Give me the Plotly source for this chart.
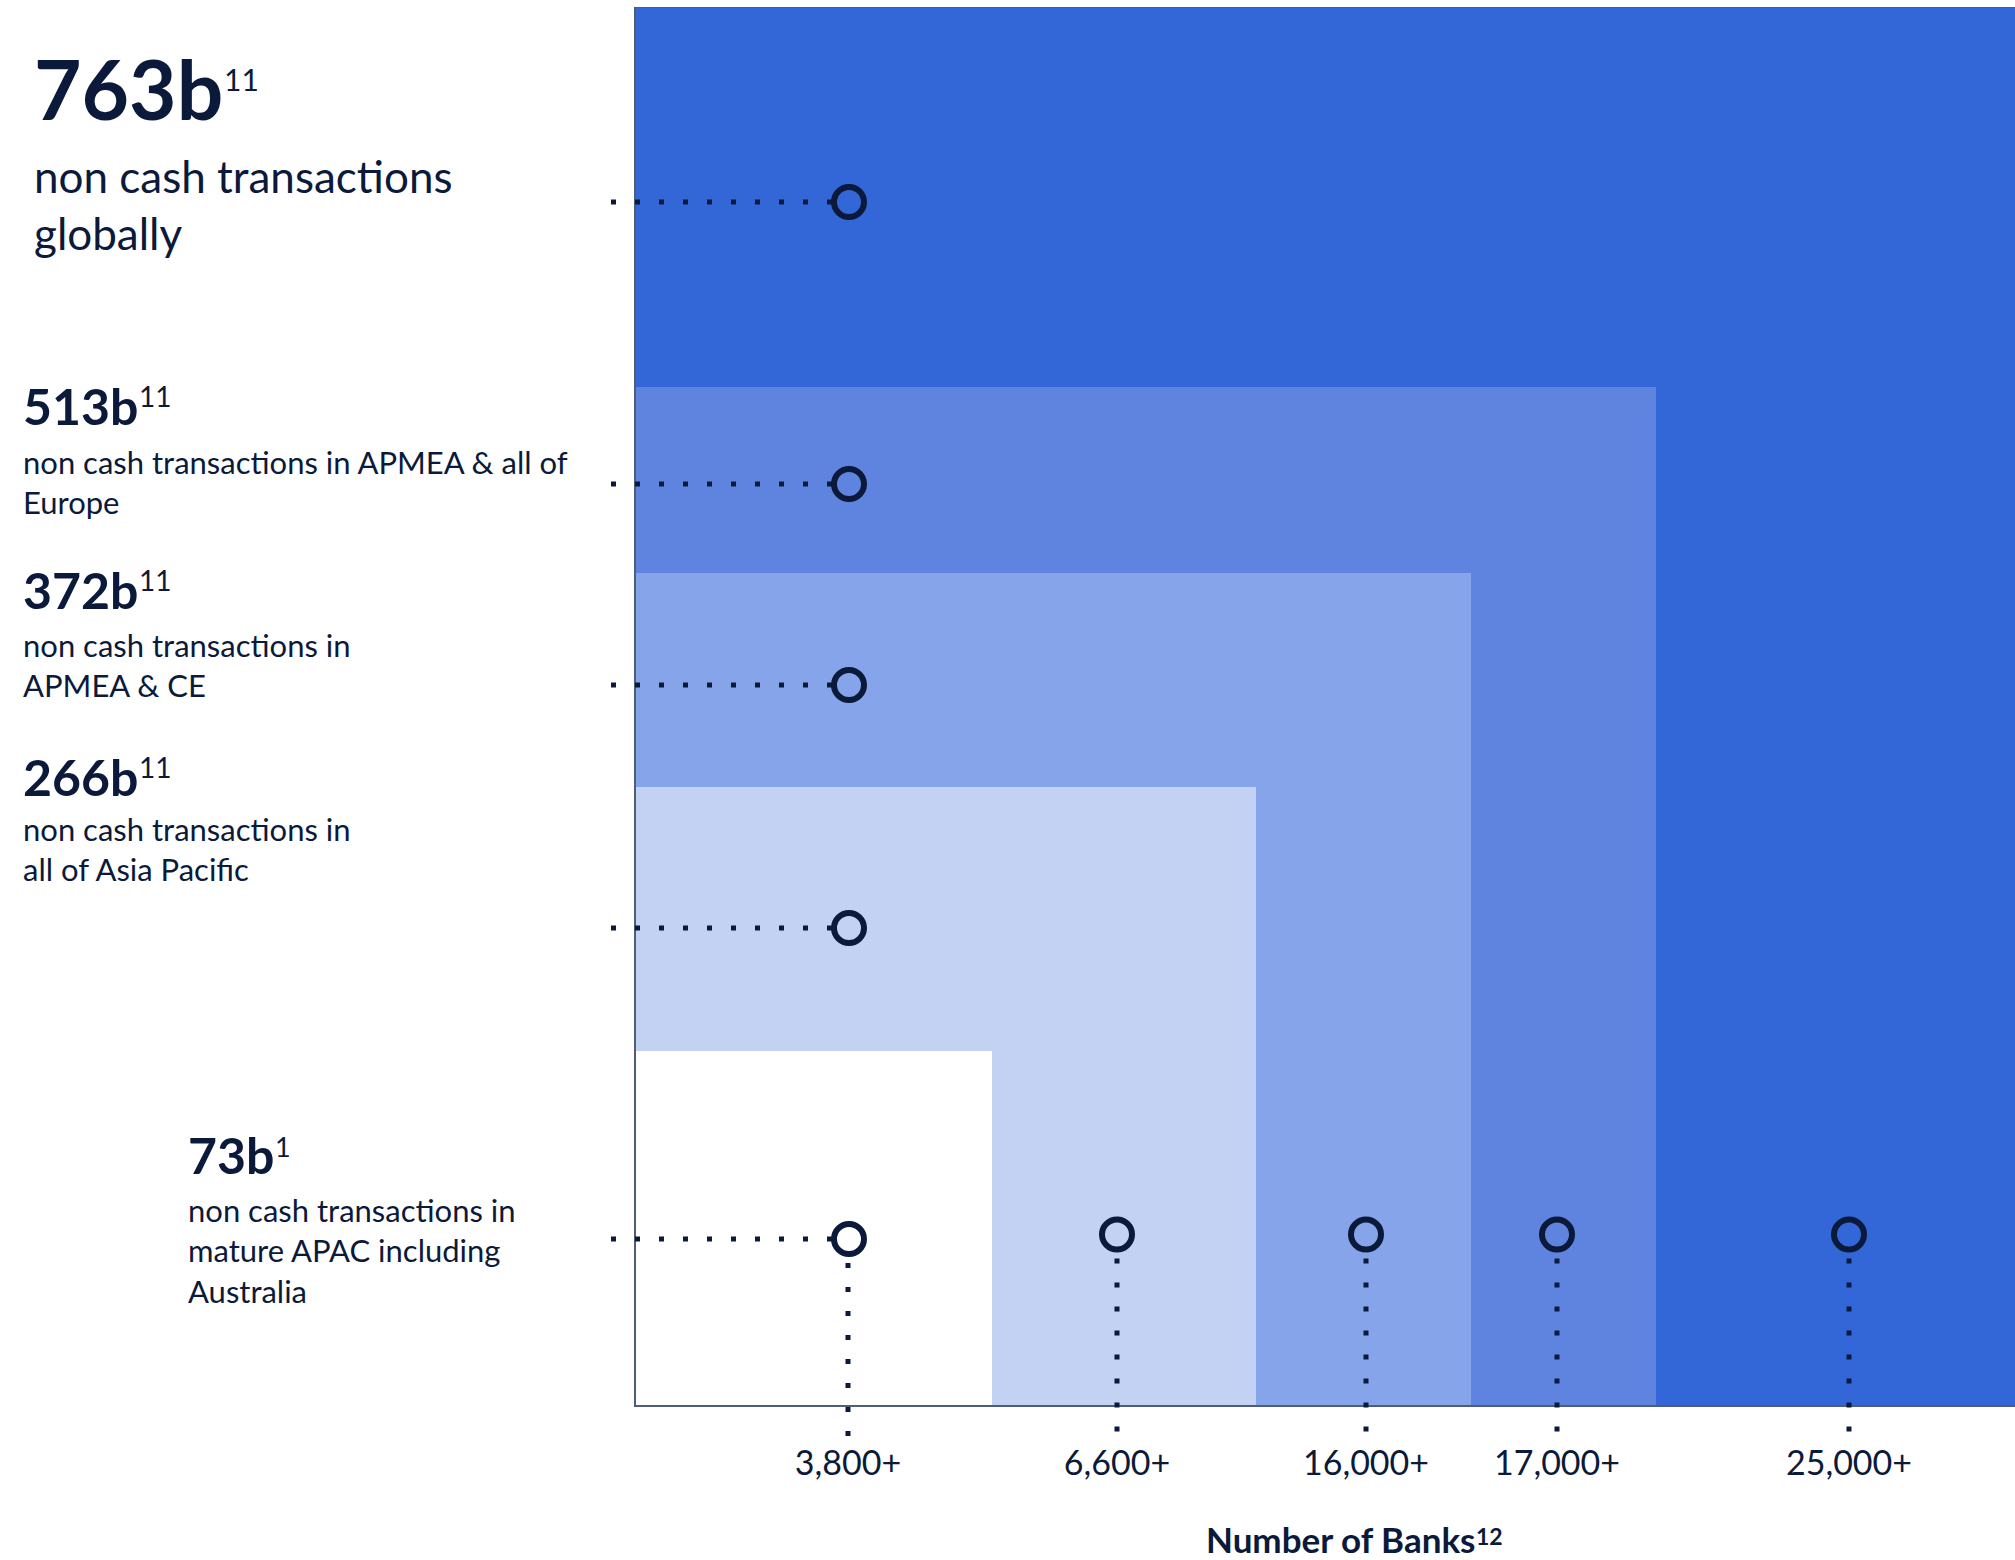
import plotly.graph_objects as go

# ---------------- data ----------------
transactions_bn = [763, 513, 372, 266, 73]
footnotes = ["11", "11", "11", "11", "1"]
descriptions = [
    "non cash transactions<br>globally",
    "non cash transactions in APMEA & all of<br>Europe",
    "non cash transactions in<br>APMEA & CE",
    "non cash transactions in<br>all of Asia Pacific",
    "non cash transactions in<br>mature APAC including<br>Australia",
]
banks = [25000, 17000, 16000, 6600, 3800]
axis_title = "Number of Banks"
axis_footnote = "12"

# ---------------- layout / style ----------------
W, H = 2015, 1560
NAVY = "#0b1a3a"
TIER_COLORS = ["#3366d6", "#5f84e0", "#86a4e9", "#c3d1f3", "#ffffff"]
FONT = "Lato"

# box in pixel space (layout), axis units 0..100 across it
BOX_L, BOX_R, BOX_B, BOX_T = 635, 2015, 1406, 7
SX = (BOX_R - BOX_L) / 100.0
SY = (BOX_B - BOX_T) / 100.0
PLOT_L, PLOT_B = 605, 1440


def ux(px):
    return (px - BOX_L) / SX


def uy(py):
    return (BOX_B - py) / SY


def paper_x(px):
    return (px - PLOT_L) / (W - PLOT_L)


def paper_y(py):
    return (PLOT_B - py) / (PLOT_B - BOX_T)


# tier geometry in axis units (outermost first)
TIER_RIGHT = [100, ux(1656), ux(1471), ux(1256), ux(992)]
TIER_TOP = [100, uy(387), uy(573), uy(787), uy(1051)]

LEFT_COL_X = ux(849)
LEFT_MARK_Y = [uy(202), uy(484), uy(685), uy(928), uy(1239)]
BANK_X = [ux(1849), ux(1557), ux(1366), ux(1117), ux(848)]
BANK_MARK_PY = 1234.5
DOT_GAP = 24
DOT_START_X = ux(611)
DOT_END_Y = uy(1437)

# text layout (pixel measures)
NUM_X = [33, 21.5, 21.5, 21.5, 187]
NUM_BASE = [120, 425, 609, 796, 1174]
NUM_SIZE = [82, 50, 50, 50, 50]
SUP_BASE_UP = [29, 18, 18, 18, 17]
SUP_SIZE = [30, 28, 28, 28, 27]
DESC_BASE = [193, 474, 657, 841, 1222]
DESC_SIZE = [44, 31, 31, 31, 31]

ASC_MID = 0.387      # (ascent - descent)/2 for Lato, in em
DIGIT_EM = 0.58      # Lato bold figure advance
B_EM = 0.567         # Lato bold "b" advance


def center_from_baseline(base, size, nlines=1):
    return base + (nlines - 1) * 0.65 * size - ASC_MID * size


fig = go.Figure()

# nested tiers
for right, top, col in zip(TIER_RIGHT, TIER_TOP, TIER_COLORS):
    fig.add_trace(go.Scatter(
        x=[0, right, right, 0, 0], y=[0, 0, top, top, 0],
        mode="lines", fill="toself", fillcolor=col,
        line=dict(width=0, color=col), hoverinfo="skip", showlegend=False))

# frame lines
fig.add_trace(go.Scatter(x=[100, 0, 0, 100], y=[100, 100, 0, 0], mode="lines",
                         line=dict(color="#4f5e78", width=2),
                         hoverinfo="skip", showlegend=False))

# horizontal dotted leader lines
for y in LEFT_MARK_Y:
    fig.add_trace(go.Scatter(x=[DOT_START_X, LEFT_COL_X], y=[y, y], mode="lines",
                             line=dict(color=NAVY, width=5, dash="5px,19px"),
                             hoverinfo="skip", showlegend=False))

# vertical dotted leader lines (start one dot-step below each circle centre)
left_bottom_py = BOX_B - LEFT_MARK_Y[-1] * SY
for i, x in enumerate(BANK_X):
    cy = left_bottom_py if i == len(BANK_X) - 1 else BANK_MARK_PY
    fig.add_trace(go.Scatter(x=[x, x], y=[uy(cy + DOT_GAP), DOT_END_Y], mode="lines",
                             line=dict(color=NAVY, width=5, dash="5px,19px"),
                             hoverinfo="skip", showlegend=False))

# circle markers
fig.add_trace(go.Scatter(
    x=[LEFT_COL_X] * len(LEFT_MARK_Y) + BANK_X[:-1],
    y=LEFT_MARK_Y + [uy(BANK_MARK_PY)] * (len(BANK_X) - 1),
    mode="markers",
    marker=dict(symbol="circle-open", size=30, color=NAVY, line=dict(width=6, color=NAVY)),
    hoverinfo="skip", showlegend=False, cliponaxis=False))

annotations = []
for i, v in enumerate(transactions_bn):
    label = f"{v}b"
    adv = (len(label) - 1) * DIGIT_EM * NUM_SIZE[i] + B_EM * NUM_SIZE[i]
    annotations.append(dict(
        x=paper_x(NUM_X[i]), y=paper_y(center_from_baseline(NUM_BASE[i], NUM_SIZE[i])),
        xref="paper", yref="paper", xanchor="left", yanchor="middle", showarrow=False,
        text=label,
        font=dict(family=FONT, size=NUM_SIZE[i], color=NAVY, weight=700),
        align="left", borderpad=0))
    annotations.append(dict(
        x=paper_x(NUM_X[i] + adv + 1),
        y=paper_y(center_from_baseline(NUM_BASE[i] - SUP_BASE_UP[i], SUP_SIZE[i])),
        xref="paper", yref="paper", xanchor="left", yanchor="middle", showarrow=False,
        text=footnotes[i],
        font=dict(family=FONT, size=SUP_SIZE[i], color=NAVY),
        align="left", borderpad=0))
    nlines = descriptions[i].count("<br>") + 1
    annotations.append(dict(
        x=paper_x(NUM_X[i]), y=paper_y(center_from_baseline(DESC_BASE[i], DESC_SIZE[i], nlines)),
        xref="paper", yref="paper", xanchor="left", yanchor="middle", showarrow=False,
        text=descriptions[i],
        font=dict(family=FONT, size=DESC_SIZE[i], color=NAVY),
        align="left", borderpad=0))

# x-axis title with its footnote marker
TITLE_END_X, TITLE_BASE, TITLE_SIZE = 1476, 1553, 35
annotations.append(dict(
    x=paper_x(TITLE_END_X), y=paper_y(center_from_baseline(TITLE_BASE, TITLE_SIZE)),
    xref="paper", yref="paper", xanchor="right", yanchor="middle", showarrow=False,
    text=axis_title,
    font=dict(family=FONT, size=TITLE_SIZE, color=NAVY, weight=700), borderpad=0))
annotations.append(dict(
    x=paper_x(TITLE_END_X - 1), y=paper_y(center_from_baseline(TITLE_BASE - 8, 23)),
    xref="paper", yref="paper", xanchor="left", yanchor="middle", showarrow=False,
    text=axis_footnote,
    font=dict(family=FONT, size=23, color=NAVY, weight=700), borderpad=0))

fig.update_layout(
    width=W, height=H,
    margin=dict(l=PLOT_L, r=0, t=BOX_T, b=H - PLOT_B, pad=0),
    paper_bgcolor="white", plot_bgcolor="white",
    annotations=annotations,
    showlegend=False,
    xaxis=dict(range=[ux(PLOT_L), 100], showgrid=False, zeroline=False, showline=False,
               tickvals=BANK_X, ticktext=[f"{b:,}+" for b in banks],
               ticks="", ticklabelstandoff=0,
               tickfont=dict(family=FONT, size=34, color=NAVY), fixedrange=True),
    yaxis=dict(range=[uy(PLOT_B), 100], visible=False, fixedrange=True),
)

fig.write_html("out.html", config={"displayModeBar": False})
